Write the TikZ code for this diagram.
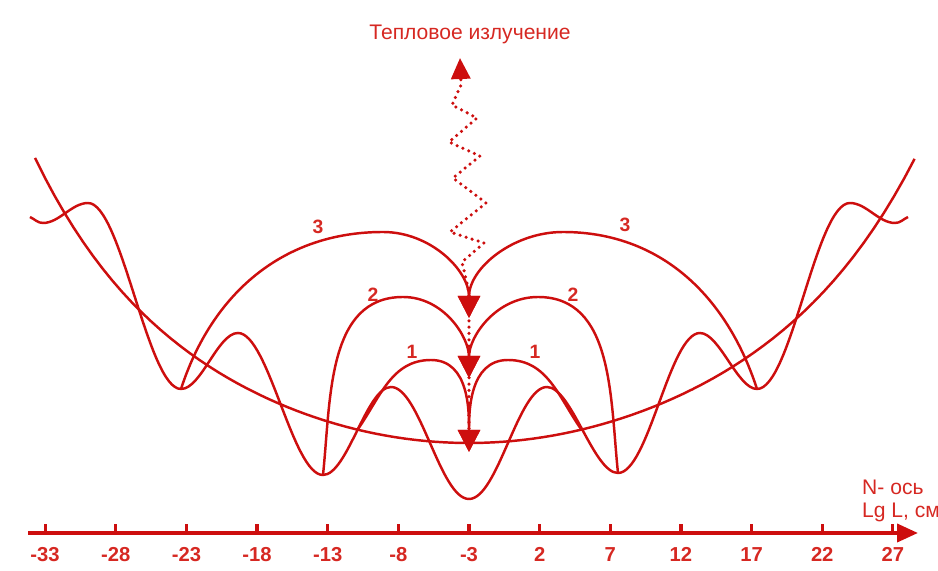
\documentclass[tikz,border=0pt]{standalone}
\usepackage{fontspec}
\setmainfont{Liberation Sans}
\usetikzlibrary{arrows.meta}
\definecolor{heatred}{RGB}{205,14,14}
\definecolor{labred}{RGB}{214,40,34}

\begin{document}
\begin{tikzpicture}[x=0.02cm, y=0.02cm,
  curve/.style={draw=heatred, line width=1.4pt},
  wave/.style={out=0, in=180, looseness=#1},
  arcarr/.style={curve, -{Triangle[length=4.4mm, width=4.4mm]}},
  heat/.style={draw=heatred, line width=2pt, line cap=round, dash pattern=on 0pt off 3.6pt, -{Triangle[length=4.2mm, width=3.8mm]}},
  axisline/.style={draw=heatred, line width=2.2pt, -{Triangle[length=4.2mm, width=3.6mm]}},
  tickmark/.style={draw=heatred, line width=1.8pt},
  ticklab/.style={text=labred, font=\fontsize{11.5}{12}\selectfont\bfseries, anchor=base},
  arclab/.style={text=labred, font=\fontsize{11}{12}\selectfont\bfseries},
  axislab/.style={text=labred, font=\fontsize{12}{14}\selectfont, anchor=base west}
]
\useasboundingbox (0,0) rectangle (938,571);
\coordinate (m3l) at (181,182);
\coordinate (m3r) at (757,182);
\coordinate (m2l) at (323,96);
\coordinate (m2r) at (618,98);
\coordinate (m1l) at (358,142);
\coordinate (m1r) at (581,142);
\coordinate (t3) at (469,253);
\coordinate (t2) at (469,193);
\coordinate (t1) at (469,119);
\coordinate (dbot) at (469,130);
\coordinate (zbot) at (469,279);
\coordinate (heattip) at (460,513);
\coordinate (ax0) at (28,38);
\coordinate (ax1) at (918,38);
\node[text=labred, font=\fontsize{12}{14}\selectfont, anchor=base] (title) at (470,531) {Тепловое излучение};
\node[axislab] (naxis) at (856,76) {N- ось};
\node[axislab] (lgl) at (856,53) {Lg L, см};
\draw[curve] plot[domain=-1:1, samples=90, variable=\u] ({469+440*\u+6*\u*\u}, {128+206*\u*\u+79*(\u*\u)^3});
\draw[curve] (30,354) to[out=-25,in=180] (43,348) to[wave=0.84] (88,368)
  to[wave=0.41] (181,182) to[wave=0.65] (238,238) to[wave=0.47] (323,96)
  to[wave=0.56] (391,184) to[wave=0.54] (469,72) to[wave=0.54] (547,184)
  to[wave=0.56] (618,98) to[wave=0.48] (700,238) to[wave=0.62] (757,182)
  to[wave=0.42] (850,368) to[wave=0.84] (895,348) to[out=0,in=205] (908,354);
\draw[heat] (dbot) -- (zbot) -- (462,309) -- (484,328) -- (450,339) -- (486,368) -- (453,393)
  -- (480,415) -- (449,429) -- (477,453) -- (452,466) -- (461,486) -- (heattip);
\draw[arcarr] (m3l) to[out=72,in=180] (383,339) to[out=0,in=90] (t3);
\draw[arcarr] (m3r) to[out=108,in=0] (563,339) to[out=180,in=90] (t3);
\draw[arcarr] (m2l) to[out=84,in=180] (403,274) to[out=0,in=90] (t2);
\draw[arcarr] (m2r) to[out=96,in=0] (538,274) to[out=180,in=90] (t2);
\draw[arcarr] (m1l) to[out=55,in=180] (431,211) to[out=0,in=90] (t1);
\draw[arcarr] (m1r) to[out=125,in=0] (508,211) to[out=180,in=90] (t1);
\node[arclab] (n3l) at (318,344) {3};
\node[arclab] (n3r) at (625,346) {3};
\node[arclab] (n2l) at (373,276) {2};
\node[arclab] (n2r) at (573,276) {2};
\node[arclab] (n1l) at (412,219) {1};
\node[arclab] (n1r) at (535,219) {1};
\draw[axisline] (ax0) -- (ax1);
\foreach \v [count=\i] in {-33,-28,...,27} {
  \draw[tickmark] ({469+14.13*(\v+3)},38) -- ++(0,9);
  \node[ticklab] (lab\i) at ({469+14.13*(\v+3)},9) {\v};
}
\end{tikzpicture}
\end{document}
